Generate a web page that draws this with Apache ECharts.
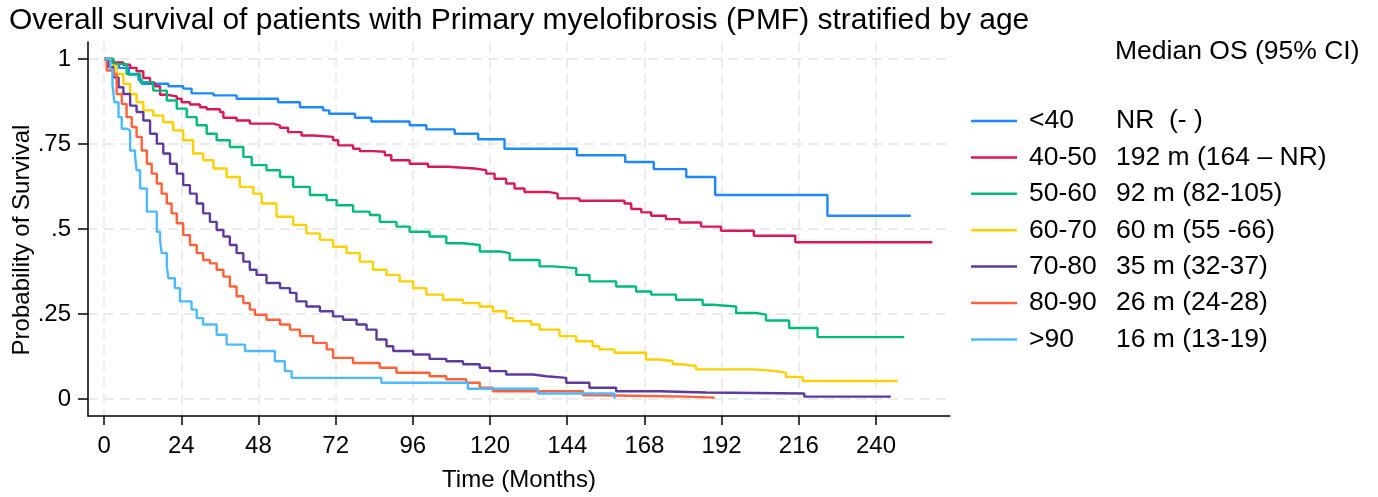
<!DOCTYPE html>
<html>
<head>
<meta charset="utf-8">
<script src="https://cdn.jsdelivr.net/npm/echarts@6/dist/echarts.min.js"></script>
<style>
  html, body { margin: 0; padding: 0; background: #fff; }
  #chart { width: 1378px; height: 497px; }
</style>
</head>
<body>
<div id="chart"></div>
<script>
const FONT = "'Liberation Sans', Arial, Helvetica, sans-serif";

// age groups, legend order
const groups = ["<40", "40-50", "50-60", "60-70", "70-80", "80-90", ">90"];
const medianOS = [
  "NR  (- )",
  "192 m (164 \u2013 NR)",
  "92 m (82-105)",
  "60 m (55 -66)",
  "35 m (32-37)",
  "26 m (24-28)",
  "16 m (13-19)"
];
const colors = ["#1E88FF", "#D8175C", "#00BA7C", "#FFD000", "#5C3A9E", "#FF6138", "#4FB9FF"];

// x / y ticks
const xTicks = [0, 24, 48, 72, 96, 120, 144, 168, 192, 216, 240];
const yTicks = [0, 0.25, 0.5, 0.75, 1];
const yTickLabels = ["0", ".25", ".5", ".75", "1"];

// Kaplan-Meier steps: [month, survival after the drop]
const km40 = [[0,1],[2.5,0.988],[4.6,0.974],[7.7,0.954],[10.7,0.939],[11.7,0.927],[20,0.920],[24.6,0.913],[27.2,0.899],[34,0.893],[41.2,0.883],[54.1,0.873],[60.9,0.858],[68.1,0.849],[70,0.839],[78,0.827],[83.1,0.816],[95,0.805],[100.2,0.793],[109,0.780],[116.3,0.764],[124.5,0.736],[147,0.717],[162,0.697],[170.9,0.676],[181,0.653],[190,0.600],[224.9,0.539],[250.8,0.539]];
const km4050 = [[0,1],[2.9,0.990],[6,0.983],[8.1,0.974],[10.1,0.964],[12.2,0.944],[14.3,0.930],[15.8,0.920],[17.4,0.895],[19.5,0.890],[22.6,0.883],[24.1,0.873],[26.7,0.866],[29.8,0.858],[31.9,0.852],[36,0.844],[37.1,0.827],[41.2,0.819],[45.3,0.810],[52.6,0.805],[54.7,0.798],[57.2,0.785],[61.4,0.775],[65,0.771],[71.2,0.761],[72.8,0.746],[77.4,0.736],[79.5,0.729],[83.6,0.727],[87.3,0.717],[89.3,0.702],[95,0.692],[100.7,0.683],[106.9,0.678],[115.2,0.673],[118.8,0.663],[121.4,0.648],[125,0.634],[127.6,0.619],[130.7,0.609],[138,0.604],[141,0.590],[147.8,0.583],[161.8,0.575],[163.9,0.559],[167,0.549],[170.1,0.539],[174.7,0.529],[178.9,0.519],[185.6,0.507],[191.8,0.495],[202,0.480],[214.9,0.461],[257.5,0.461]];
const km5060 = [[0,1],[2.9,0.985],[7,0.956],[11.2,0.932],[15.3,0.907],[19.5,0.878],[22.6,0.854],[25.7,0.829],[28.8,0.805],[31.9,0.780],[35,0.761],[39.1,0.741],[43.3,0.712],[45.9,0.688],[50.5,0.673],[54.7,0.653],[58.8,0.624],[64,0.600],[69.2,0.585],[72.3,0.570],[77.4,0.551],[82.6,0.541],[85.7,0.521],[90.9,0.507],[95,0.492],[101.2,0.478],[106.4,0.458],[111.6,0.453],[116.8,0.434],[123,0.429],[126.1,0.409],[135.4,0.390],[139.5,0.385],[146.8,0.365],[150.9,0.346],[159.2,0.331],[165.4,0.316],[170.1,0.307],[177.8,0.292],[186.1,0.277],[189.2,0.272],[196.5,0.253],[202.7,0.248],[205.8,0.231],[213,0.209],[221.8,0.182],[248.8,0.182]];
const km6070 = [[0,1],[1.9,0.980],[3.9,0.956],[6,0.927],[8.1,0.897],[10.1,0.873],[12.2,0.849],[15.3,0.834],[18.4,0.814],[21.5,0.790],[24.6,0.761],[27.7,0.722],[30.8,0.702],[34,0.678],[38.1,0.653],[42.2,0.624],[46.4,0.604],[49,0.575],[53.6,0.536],[58.8,0.512],[62.9,0.487],[67.1,0.468],[71.2,0.448],[75.4,0.429],[79.5,0.404],[83.6,0.380],[87.8,0.365],[91.9,0.346],[96.1,0.326],[100.2,0.307],[105.4,0.292],[111.6,0.282],[116.8,0.272],[120.9,0.258],[125,0.238],[127.1,0.229],[132.8,0.219],[135.4,0.204],[141.6,0.185],[146.8,0.170],[151.9,0.155],[154,0.146],[158.7,0.136],[168.5,0.116],[172.7,0.111],[176.8,0.102],[179.9,0.097],[184,0.087],[202.2,0.082],[209,0.077],[212,0.065],[217.2,0.053],[246.7,0.053]];
const km7080 = [[0,1],[1.3,0.976],[2.9,0.946],[4.5,0.917],[6,0.897],[8.1,0.863],[10.1,0.844],[12.2,0.819],[14.3,0.780],[16.4,0.751],[18.4,0.722],[20.5,0.692],[22.6,0.663],[24.6,0.629],[26.7,0.604],[28.8,0.575],[30.8,0.546],[32.9,0.521],[35,0.497],[37.1,0.478],[39.1,0.453],[41.2,0.429],[43.3,0.404],[45.3,0.380],[47.4,0.365],[50.5,0.341],[54.7,0.326],[57.8,0.312],[59.8,0.287],[62.9,0.272],[67.1,0.258],[71.2,0.243],[74.3,0.233],[78.5,0.219],[81.6,0.204],[84.7,0.175],[87.8,0.155],[89.9,0.141],[96.1,0.131],[101.2,0.118],[106.4,0.111],[111.6,0.102],[116.8,0.092],[119.9,0.082],[125,0.072],[133.3,0.067],[137.5,0.062],[143.7,0.048],[150.9,0.033],[159.2,0.023],[172.7,0.019],[187.1,0.016],[217.7,0.007],[244.6,0.007]];
const km8090 = [[0,1],[0.8,0.966],[2.9,0.956],[3.9,0.897],[5.5,0.868],[7,0.829],[8.6,0.800],[10.1,0.771],[11.7,0.731],[13.3,0.692],[14.8,0.663],[16.4,0.634],[17.9,0.604],[19.5,0.575],[21,0.546],[22.6,0.517],[24.6,0.482],[26.7,0.453],[28.8,0.429],[30.8,0.409],[32.9,0.399],[35,0.380],[37.1,0.360],[39.1,0.331],[41.2,0.302],[43.3,0.282],[45.3,0.263],[46.9,0.248],[50.5,0.233],[54.7,0.219],[57.8,0.204],[60.9,0.185],[65,0.165],[69.2,0.146],[71.2,0.121],[77.4,0.106],[85.7,0.092],[90.9,0.077],[101.2,0.067],[106.4,0.058],[112.6,0.048],[116.8,0.033],[120.9,0.023],[148.9,0.011],[154,0.007],[180.9,0.004],[189.8,0.004]];
const km90 = [[0,1],[1.9,0.971],[2.6,0.927],[3.2,0.873],[4.5,0.829],[5.5,0.795],[7,0.790],[8.1,0.731],[9.6,0.717],[10.1,0.673],[11.2,0.619],[13.3,0.551],[16.4,0.492],[17.4,0.468],[17.9,0.429],[19.5,0.390],[20,0.355],[22,0.326],[23.6,0.287],[27.2,0.263],[28.8,0.238],[30.8,0.219],[35,0.189],[38.1,0.160],[43.8,0.141],[53.1,0.111],[56.2,0.082],[58.3,0.062],[86.2,0.048],[113.1,0.030],[134.9,0.016],[158.7,0.016],[158.7,0.001]];

const curves = [km40, km4050, km5060, km6070, km7080, km8090, km90];

const chart = echarts.init(document.getElementById("chart"));

const option = {
  animation: false,
  backgroundColor: "#fff",
  textStyle: { fontFamily: FONT, color: "#000" },
  title: {
    text: "Overall survival of patients with Primary myelofibrosis (PMF) stratified by age",
    left: 9,
    top: 6,
    padding: 0,
    textStyle: { fontFamily: FONT, fontSize: 30, fontWeight: "normal", color: "#000" }
  },
  grid: { left: 88, right: 428, top: 42, bottom: 81, containLabel: false, outerBoundsMode: "none" },
  legend: {
    orient: "vertical",
    left: 971,
    top: 106,
    padding: 0,
    icon: "rect",
    itemWidth: 46,
    itemHeight: 2.5,
    itemGap: 6.4,
    data: groups,
    formatter: name => `{a|${name}}{b|${medianOS[groups.indexOf(name)]}}`,
    textStyle: {
      fontFamily: FONT,
      fontSize: 26.5,
      lineHeight: 30,
      color: "#000",
      rich: {
        a: { fontFamily: FONT, fontSize: 26.5, lineHeight: 30, width: 87, padding: [0, 0, 0, 7], color: "#000" },
        b: { fontFamily: FONT, fontSize: 26.5, lineHeight: 30, color: "#000" }
      }
    }
  },
  graphic: [
    {
      type: "text",
      left: 1115,
      top: 38,
      style: { text: "Median OS (95% CI)", fontFamily: FONT, fontSize: 26.5, fill: "#000" }
    },
    {
      // y axis title
      type: "text",
      x: 22,
      y: 240,
      rotation: Math.PI / 2,
      style: {
        text: "Probability of Survival",
        fontFamily: FONT,
        fontSize: 24,
        fill: "#000",
        align: "center",
        verticalAlign: "middle"
      }
    }
  ],
  xAxis: {
    type: "value",
    min: -5,
    max: 263,
    name: "Time (Months)",
    nameLocation: "middle",
    nameGap: 52,
    nameTextStyle: { fontFamily: FONT, fontSize: 24, color: "#000" },
    axisLine: { show: true, onZero: false, lineStyle: { color: "#000", width: 1.5 } },
    axisTick: { show: true, length: 9, customValues: xTicks, lineStyle: { color: "#000", width: 1.5 } },
    axisLabel: { customValues: xTicks, fontFamily: FONT, fontSize: 24, color: "#000", margin: 18 },
    splitLine: { show: true, customValues: xTicks, lineStyle: { color: "#ebebeb", width: 2, type: [10, 6] } }
  },
  yAxis: {
    type: "value",
    min: -0.05,
    max: 1.05,
    axisLine: { show: true, onZero: false, lineStyle: { color: "#000", width: 1.5 } },
    axisTick: { show: true, length: 10, customValues: yTicks, lineStyle: { color: "#000", width: 1.5 } },
    axisLabel: {
      customValues: yTicks,
      fontFamily: FONT,
      fontSize: 24,
      color: "#000",
      margin: 17,
      formatter: v => yTickLabels[yTicks.indexOf(v)]
    },
    splitLine: { show: true, customValues: yTicks, lineStyle: { color: "#ebebeb", width: 2, type: [10, 6] } }
  },
  series: groups.map((g, i) => ({
    name: g,
    type: "line",
    step: "end",
    data: curves[i],
    showSymbol: false,
    symbol: "none",
    color: colors[i],
    lineStyle: { color: colors[i], width: 2.4 }
  }))
};

chart.setOption(option);
</script>
</body>
</html>
